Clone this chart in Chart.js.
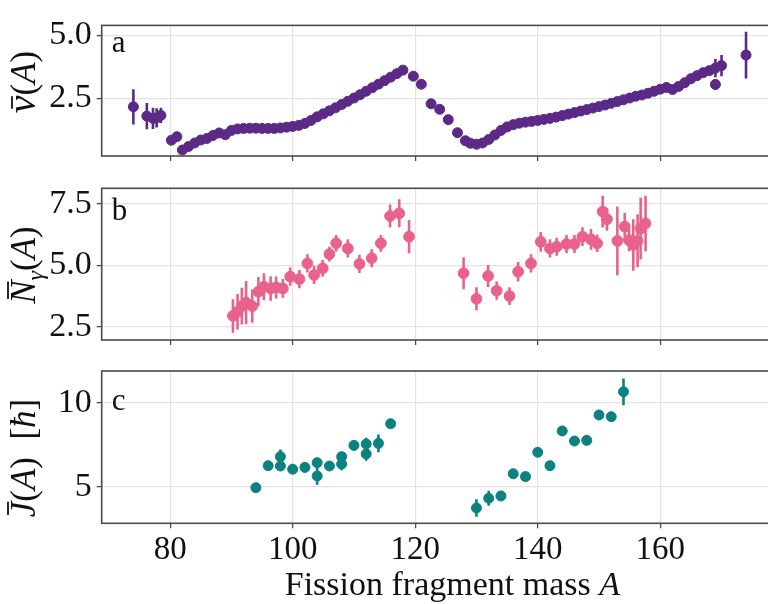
<!DOCTYPE html>
<html lang="en">
<head>
    <meta charset="UTF-8">
    <title>Fragment observables vs mass</title>
    <script src="https://cdn.jsdelivr.net/npm/chart.js@4.4.0/dist/chart.umd.min.js"></script>
    <style>
        body { margin: 0; background: #fff; }
        #wrap { position: relative; width: 768px; height: 604px; overflow: hidden; }
        #wrap canvas { position: absolute; left: 0; top: 0; }
    </style>
</head>
<body>
    <div id="wrap">
        <canvas id="panelA" width="810" height="604"></canvas>
        <canvas id="panelB" width="810" height="604"></canvas>
        <canvas id="panelC" width="810" height="604"></canvas>
    </div>

    <script>
        // (a) mean neutron multiplicity per fragment mass
        const nuMass = [74, 76.2, 77.2, 77.8, 78.5, 80.2, 81.1,
            82, 83, 84, 85, 86, 87, 88, 89, 90, 91, 92, 93, 94, 95, 96, 97, 98, 99,
            100, 101, 102, 103, 104, 105, 106, 107, 108, 109, 110, 111, 112, 113, 114,
            115, 116, 117, 118,
            119.7, 121.0, 122.6, 124.0, 125.4, 126.9, 128.2,
            129, 130, 131, 132, 133, 134, 135, 136, 137, 138, 139, 140, 141, 142, 143,
            144, 145, 146, 147, 148, 149, 150, 151, 152, 153, 154, 155, 156, 157, 158,
            159, 160, 161, 162, 163, 164, 165, 166, 167, 168,
            169, 169, 170, 174];
        const nuValue = [2.16, 1.79, 1.70, 1.72, 1.82, 0.83, 0.97,
            0.44, 0.58, 0.72, 0.84, 0.90, 1.02, 1.12, 1.05, 1.22, 1.28, 1.30, 1.31, 1.31, 1.30, 1.30, 1.30, 1.32, 1.35,
            1.38, 1.42, 1.50, 1.62, 1.76, 1.88, 2.00, 2.12, 2.25, 2.38, 2.51, 2.64, 2.78, 2.92, 3.06,
            3.20, 3.34, 3.48, 3.62,
            3.38, 3.06, 2.28, 2.06, 1.65, 1.13, 0.81,
            0.71, 0.67, 0.72, 0.86, 1.04, 1.22, 1.36, 1.45, 1.51, 1.55, 1.58, 1.62, 1.66, 1.70, 1.75,
            1.81, 1.87, 1.93, 1.99, 2.05, 2.11, 2.17, 2.23, 2.30, 2.37, 2.44, 2.51, 2.58, 2.63, 2.70,
            2.78, 2.86, 2.93, 2.85, 2.97, 3.12, 3.28, 3.40, 3.52, 3.60,
            3.70, 3.05, 3.80, 4.22];
        const nuError = [0.70, 0.52, 0.42, 0.38, 0.30, 0, 0,
            0, 0, 0, 0, 0, 0, 0, 0, 0, 0, 0, 0, 0, 0, 0, 0, 0, 0,
            0, 0, 0, 0, 0, 0, 0, 0, 0, 0, 0, 0, 0, 0, 0,
            0, 0, 0, 0,
            0, 0, 0, 0, 0, 0, 0,
            0, 0, 0, 0, 0, 0, 0, 0, 0, 0, 0, 0, 0, 0, 0,
            0, 0, 0, 0, 0, 0, 0, 0, 0, 0, 0, 0, 0, 0, 0,
            0, 0, 0, 0, 0, 0, 0, 0, 0, 0,
            0.36, 0.22, 0.42, 0.93];

        // (b) mean gamma multiplicity
        const ngMass = [90.25, 91.0, 91.7, 92.4, 93.4, 94.4, 95.3, 96.4, 97.3, 98.4,
            99.6, 101.1, 102.4, 103.5, 104.9, 106.0, 107.1, 109.0, 110.9, 112.9,
            114.4, 115.9, 117.4, 119.0,
            127.9, 130.0, 131.9, 133.3, 135.4, 136.8, 138.9, 140.5, 142.0, 143.1,
            144.7, 146.0, 147.3, 148.7, 149.7, 150.6, 151.3, 153.0, 154.2, 154.9,
            155.6, 156.3, 156.8, 157.6];
        const ngValue = [2.94, 3.11, 3.34, 3.48, 3.34, 3.93, 4.13, 4.06, 4.10, 4.06,
            4.54, 4.44, 5.08, 4.61, 4.88, 5.46, 5.90, 5.69, 5.06, 5.29,
            5.90, 7.01, 7.12, 6.17,
            4.68, 3.64, 4.57, 3.97, 3.75, 4.74, 5.08, 5.96, 5.69, 5.76,
            5.87, 5.87, 6.17, 6.06, 5.90, 7.19, 6.88, 6.00, 6.58, 6.03,
            5.83, 6.00, 6.50, 6.71];
        const ngError = [0.68, 0.72, 0.75, 0.88, 0.68, 0.60, 0.55, 0.50, 0.45, 0.38,
            0.37, 0.37, 0.37, 0.37, 0.34, 0.30, 0.34, 0.37, 0.37, 0.37,
            0.34, 0.47, 0.57, 0.68,
            0.65, 0.47, 0.45, 0.37, 0.36, 0.40, 0.37, 0.40, 0.37, 0.37,
            0.37, 0.37, 0.38, 0.42, 0.36, 0.65, 0.47, 1.40, 0.55, 0.45,
            1.05, 1.08, 1.25, 1.13];

        // (c) mean fragment spin
        const jMass = [94, 96, 98, 98, 100, 102, 104, 104, 106, 108, 108, 110, 112, 112, 114, 116,
            130, 132, 134, 136, 138, 140, 142, 144, 146, 148, 150, 152, 154];
        const jValue = [4.94, 6.25, 6.79, 6.23, 6.04, 6.15, 6.43, 5.64, 6.23, 6.79, 6.35, 7.46, 7.54, 6.95, 7.58, 8.75,
            3.73, 4.31, 4.45, 5.77, 5.60, 7.05, 6.25, 8.32, 7.72, 7.76, 9.27, 9.17, 10.65];
        const jError = [0, 0, 0.42, 0.15, 0, 0, 0.2, 0.53, 0, 0.25, 0.37, 0.2, 0.38, 0.4, 0.53, 0,
            0.52, 0.45, 0, 0, 0, 0, 0, 0, 0, 0, 0.15, 0.15, 0.8];

        const xTicks = [80, 100, 120, 140, 160];
        const nuTicks = [2.5, 5.0];
        const ngTicks = [2.5, 5.0, 7.5];
        const jTicks = [5, 10];

        const FONT = "'Liberation Serif', 'DejaVu Serif', serif";
        const GRID = '#e3e3e3';
        const FRAME = '#4a4a4a';
        const INK = '#111';

        // draw a centred run of text pieces with their own fonts / offsets;
        // pieces flagged with bar get an overline (mean value symbol)
        function drawRich(ctx, parts, cx, cy, angle) {
            ctx.save();
            ctx.translate(cx, cy);
            ctx.rotate(angle);
            ctx.textBaseline = 'alphabetic';
            ctx.fillStyle = INK;
            ctx.strokeStyle = INK;
            let total = 0;
            parts.forEach(p => {
                ctx.font = p.font;
                p.w = ctx.measureText(p.text).width;
                total += p.w;
            });
            let x = -total / 2;
            parts.forEach(p => {
                ctx.font = p.font;
                ctx.fillText(p.text, x, p.dy || 0);
                if (p.bar) {
                    ctx.lineWidth = 1.8;
                    ctx.beginPath();
                    ctx.moveTo(x + p.w * p.bar[0], -p.bar[2]);
                    ctx.lineTo(x + p.w * p.bar[1], -p.bar[2]);
                    ctx.stroke();
                }
                x += p.w;
            });
            ctx.restore();
        }

        const errorBars = {
            id: 'errorBars',
            beforeDatasetsDraw(chart) {
                const {ctx, chartArea, scales: {x, y}} = chart;
                ctx.save();
                ctx.beginPath();
                ctx.rect(chartArea.left, chartArea.top, chartArea.right - chartArea.left, chartArea.bottom - chartArea.top);
                ctx.clip();
                chart.data.datasets.forEach(ds => {
                    ctx.strokeStyle = ds.backgroundColor;
                    ctx.lineWidth = 2.6;
                    ds.data.forEach((p, i) => {
                        const e = ds.errors[i];
                        if (!e) return;
                        const px = x.getPixelForValue(p.x);
                        ctx.beginPath();
                        ctx.moveTo(px, y.getPixelForValue(p.y - e));
                        ctx.lineTo(px, y.getPixelForValue(p.y + e));
                        ctx.stroke();
                    });
                });
                ctx.restore();
            }
        };

        const decor = {
            id: 'decor',
            afterDraw(chart, args, opts) {
                const {ctx, chartArea: a} = chart;
                ctx.save();
                ctx.strokeStyle = FRAME;
                ctx.lineWidth = 1.6;
                ctx.strokeRect(a.left, a.top, a.right - a.left, a.bottom - a.top);
                ctx.fillStyle = INK;
                ctx.font = '31px ' + FONT;
                ctx.textBaseline = 'alphabetic';
                ctx.fillText(opts.letter, a.left + 10, a.top + opts.letterDy);
                ctx.restore();
                drawRich(ctx, opts.yTitle, 35, opts.yTitleY, -Math.PI / 2);
                if (opts.xTitle) {
                    drawRich(ctx, opts.xTitle, (a.left + a.right) / 2, 595, 0);
                }
            }
        };

        function points(mass, vals) {
            return mass.map((m, i) => ({x: m, y: vals[i]}));
        }

        function makePanel(id, cfg) {
            return new Chart(document.getElementById(id), {
                type: 'scatter',
                data: {
                    datasets: [{
                        data: points(cfg.mass, cfg.values),
                        errors: cfg.errors,
                        backgroundColor: cfg.color,
                        borderColor: cfg.color,
                        borderWidth: 1,
                        pointRadius: cfg.radius,
                        pointHoverRadius: cfg.radius
                    }]
                },
                options: {
                    responsive: false,
                    animation: false,
                    devicePixelRatio: 1,
                    events: [],
                    layout: { padding: { top: cfg.top, left: 0, right: 7, bottom: 0 } },
                    plugins: {
                        legend: { display: false },
                        tooltip: { enabled: false },
                        decor: {
                            letter: cfg.letter,
                            letterDy: cfg.letterDy,
                            yTitle: cfg.yTitle,
                            yTitleY: cfg.yTitleY,
                            xTitle: cfg.xTitle
                        }
                    },
                    scales: {
                        x: {
                            type: 'linear',
                            min: 68.83,
                            max: 183.3,
                            afterBuildTicks: s => { s.ticks = xTicks.map(v => ({value: v})); },
                            afterFit: s => { s.height = 604 - cfg.bottom; },
                            border: { display: false },
                            grid: { color: GRID, lineWidth: 1.2, tickColor: FRAME, tickLength: 5, tickWidth: 1.3 },
                            ticks: {
                                display: !!cfg.xTitle,
                                color: INK,
                                padding: 2,
                                font: { family: FONT, size: 33 },
                                callback: v => String(v)
                            }
                        },
                        y: {
                            min: cfg.yMin,
                            max: cfg.yMax,
                            afterBuildTicks: s => { s.ticks = cfg.yTicks.map(v => ({value: v})); },
                            afterFit: s => { s.width = 101.7; },
                            border: { display: false },
                            grid: { color: GRID, lineWidth: 1.2, tickColor: FRAME, tickLength: 5, tickWidth: 1.3 },
                            ticks: {
                                color: INK,
                                padding: 5,
                                font: { family: FONT, size: 34 },
                                callback: cfg.tickFormat
                            }
                        }
                    }
                },
                plugins: [errorBars, decor]
            });
        }

        const italic = 'italic 35px ' + FONT;
        const upright = '35px ' + FONT;

        makePanel('panelA', {
            mass: nuMass, values: nuValue, errors: nuError,
            color: '#5b2a86', radius: 5,
            top: 5, bottom: 156, yMin: 0.203, yMax: 5.4, yTicks: nuTicks,
            tickFormat: v => v.toFixed(1),
            letter: 'a', letterDy: 27,
            yTitle: [{text: 'ν', font: 'italic 40px ' + FONT, bar: [0.25, 0.95, 23]},
                     {text: '(', font: upright}, {text: 'A', font: italic}, {text: ')', font: upright}],
            yTitleY: 82
        });

        makePanel('panelB', {
            mass: ngMass, values: ngValue, errors: ngError,
            color: '#e8628c', radius: 5.4,
            top: 188.3, bottom: 340, yMin: 1.96, yMax: 8.14, yTicks: ngTicks,
            tickFormat: v => v.toFixed(1),
            letter: 'b', letterDy: 32,
            yTitle: [{text: 'N', font: italic, bar: [0.2, 0.95, 27]}, {text: 'γ', font: 'italic 24px ' + FONT, dy: 8},
                     {text: '(', font: upright}, {text: 'A', font: italic}, {text: ')', font: upright}],
            yTitleY: 265
        });

        makePanel('panelC', {
            mass: jMass, values: jValue, errors: jError,
            color: '#0a8280', radius: 5,
            top: 371, bottom: 523.3, yMin: 2.82, yMax: 11.89, yTicks: jTicks,
            tickFormat: v => String(v),
            letter: 'c', letterDy: 39,
            yTitle: [{text: 'J', font: italic, bar: [0.15, 1.0, 27]}, {text: '(', font: upright}, {text: 'A', font: italic},
                     {text: ')  [', font: upright}, {text: 'ħ', font: italic}, {text: ']', font: upright}],
            yTitleY: 458,
            xTitle: [{text: 'Fission fragment mass ', font: '34px ' + FONT}, {text: 'A', font: 'italic 34px ' + FONT}]
        });
    </script>
</body>
</html>
